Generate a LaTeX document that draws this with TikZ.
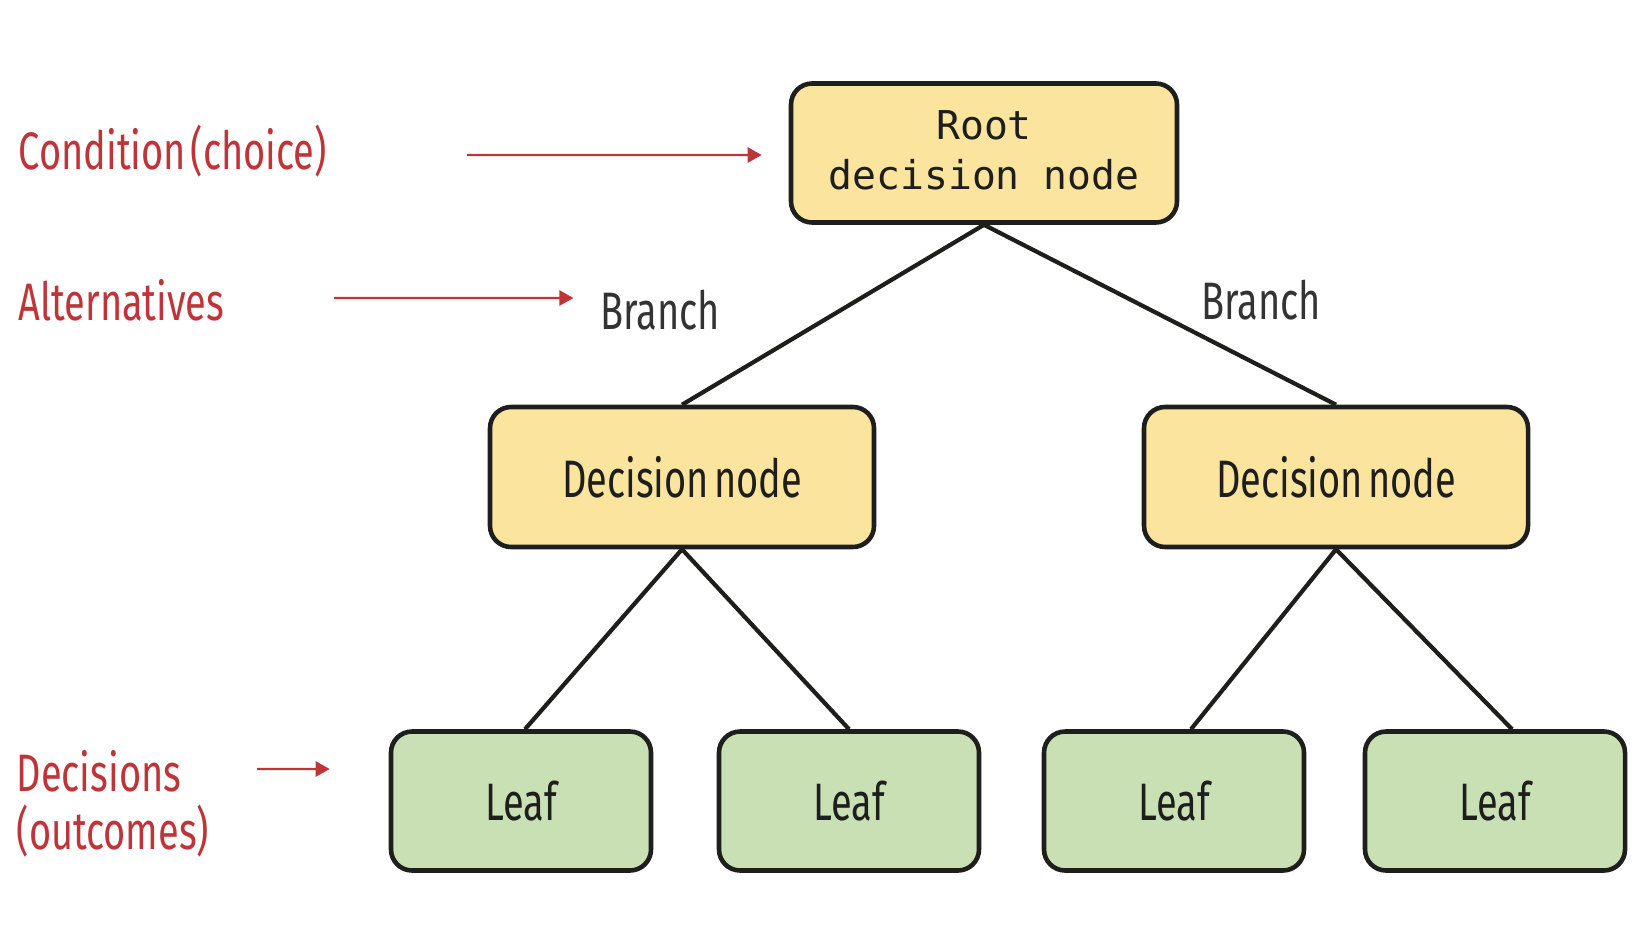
\documentclass[tikz,border=0pt]{standalone}
\usepackage{fontspec}
\usepackage{tikz}
\usetikzlibrary{arrows.meta}
\newfontfamily\dinfont[FakeStretch=0.72,WordSpace=0.5]{Fira Sans}
\newfontfamily\rootfont{DejaVu Sans Mono}
\definecolor{nodeyellow}{RGB}{250, 228, 158}
\definecolor{leafgreen}{RGB}{200, 224, 180}
\definecolor{notered}{RGB}{190, 52, 56}
\definecolor{inkdark}{RGB}{30, 30, 28}
\tikzset{
  dbox/.style={draw=inkdark,line width=1.3pt,rounded corners=6pt,fill=nodeyellow,
               minimum width=3.84cm,minimum height=1.40cm,align=center,
               font=\dinfont\fontsize{15}{18}\selectfont,text=inkdark},
  lbox/.style={dbox,fill=leafgreen,minimum width=2.60cm,minimum height=1.39cm},
  note/.style={font=\dinfont\fontsize{15}{16.5}\selectfont,text=notered,
               anchor=west,align=left,inner sep=0pt},
  blabel/.style={font=\dinfont\fontsize{15}{18}\selectfont,text=black!80,inner sep=0pt},
  edge/.style={draw=inkdark,line width=1.2pt},
  narr/.style={-{Triangle[length=1.4mm,width=1.5mm]},draw=notered,line width=0.7pt},
}
\begin{document}
\begin{tikzpicture}
  \useasboundingbox (0,0) rectangle (16.38,-9.24);
  % tree
  \node[dbox,minimum width=3.86cm,minimum height=1.39cm,
        font=\rootfont\fontsize{11.3}{14.3}\selectfont] (root) at (9.84,-1.53)
        {\raisebox{1.5pt}{Root}\\\raisebox{1.5pt}{decision node}};
  \node[dbox] (decL) at (6.82,-4.77) {Decision node};
  \node[dbox] (decR) at (13.36,-4.77) {Decision node};
  \node[lbox] (leafA) at (5.21,-8.01) {Leaf};
  \node[lbox] (leafB) at (8.49,-8.01) {Leaf};
  \node[lbox] (leafC) at (11.74,-8.01) {Leaf};
  \node[lbox] (leafD) at (14.95,-8.01) {Leaf};
  \draw[edge] (root.south)--(decL.north);
  \draw[edge] (root.south)--(decR.north);
  \draw[edge] (decL.south)--([xshift=0.04cm]leafA.north);
  \draw[edge] (decL.south)--(leafB.north);
  \draw[edge] (decR.south)--([xshift=0.17cm]leafC.north);
  \draw[edge] (decR.south)--([xshift=0.17cm]leafD.north);
  \node[blabel] (brL) at (6.60,-3.10) {Branch};
  \node[blabel] (brR) at (12.61,-3.00) {Branch};
  % notes on the left
  \node[note] (cond) at (0.18,-1.51) {Condition (choice)};
  \node[note] (alt) at (0.18,-3.00) {Alternatives};
  \node[note] (dec) at (0.16,-8.04) {Decisions\\(outcomes)};
  \coordinate (condS) at (4.67,-1.55);
  \coordinate (altS) at (3.34,-2.98);
  \coordinate (decS) at (2.57,-7.69);
  \draw[narr] (condS)--([xshift=-0.27cm,yshift=-0.02cm]root.west);
  \draw[narr] (altS)--([xshift=-0.26cm,yshift=0.12cm]brL.west);
  \draw[narr] (decS)--([xshift=-0.59cm,yshift=0.32cm]leafA.west);
\end{tikzpicture}
\end{document}
